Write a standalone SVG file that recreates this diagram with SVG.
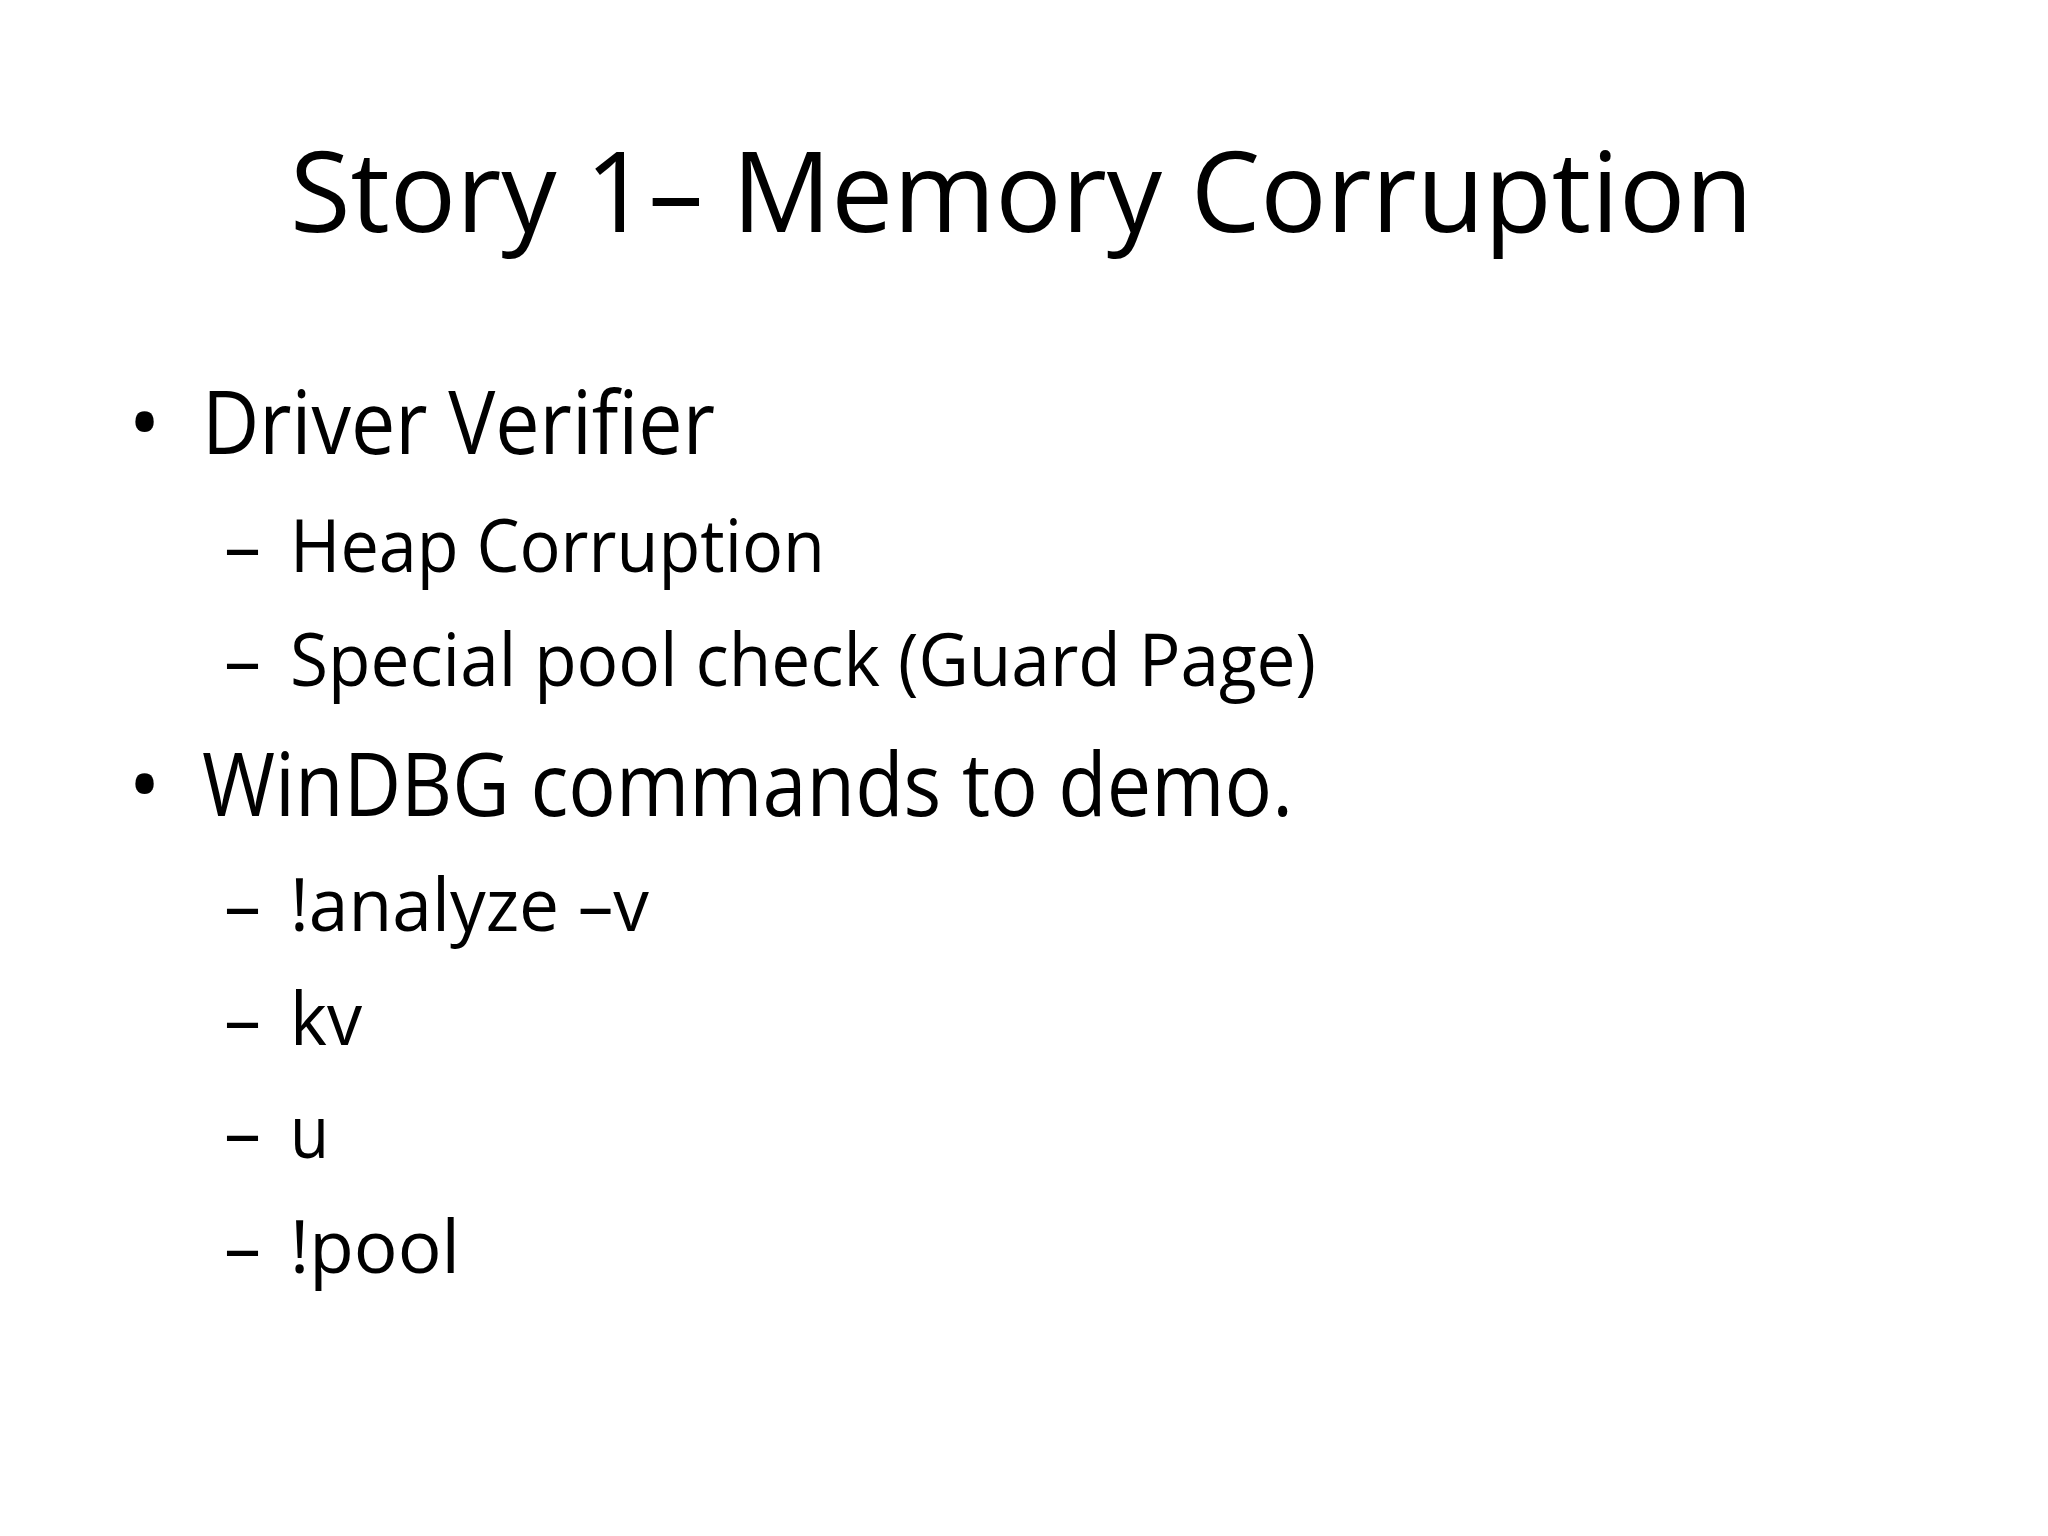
<svg xmlns="http://www.w3.org/2000/svg" width="2048" height="1536" viewBox="0 0 2048 1536">
<style>
text{font-family:"Open Sans","Liberation Sans",sans-serif;fill:#000}
.t{font-size:112px}
.b{font-size:88px}
.s{font-size:74px}
</style>
<rect width="2048" height="1536" fill="#fff"/>
<g id="title"><text class="t" x="290" y="232" textLength="1463" lengthAdjust="spacingAndGlyphs">Story 1– Memory Corruption</text></g>
<g id="body">
<text class="b" x="128" y="454">•</text>
<text class="b" x="202" y="454" textLength="513" lengthAdjust="spacingAndGlyphs">Driver Verifier</text>
<text class="s" x="224" y="572">–</text>
<text class="s" x="290" y="572" textLength="535" lengthAdjust="spacingAndGlyphs">Heap Corruption</text>
<text class="s" x="224" y="686">–</text>
<text class="s" x="290" y="686" textLength="1026" lengthAdjust="spacingAndGlyphs">Special pool check (Guard Page)</text>
<text class="b" x="128" y="816">•</text>
<text class="b" x="202" y="816" textLength="1091" lengthAdjust="spacingAndGlyphs">WinDBG commands to demo.</text>
<text class="s" x="224" y="931">–</text>
<text class="s" x="290" y="931" textLength="359" lengthAdjust="spacingAndGlyphs">!analyze –v</text>
<text class="s" x="224" y="1045">–</text>
<text class="s" x="290" y="1045" textLength="72" lengthAdjust="spacingAndGlyphs">kv</text>
<text class="s" x="224" y="1158">–</text>
<text class="s" x="290" y="1158" textLength="39" lengthAdjust="spacingAndGlyphs">u</text>
<text class="s" x="224" y="1273">–</text>
<text class="s" x="290" y="1273" textLength="170" lengthAdjust="spacingAndGlyphs">!pool</text>
</g>
</svg>
